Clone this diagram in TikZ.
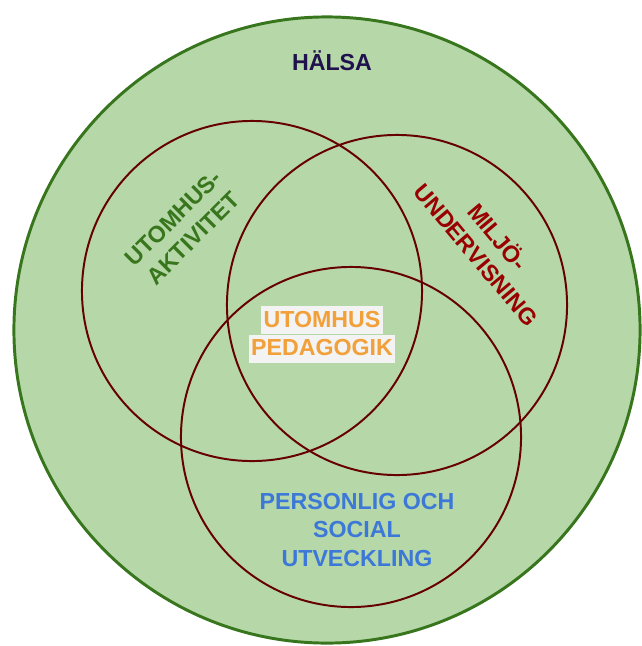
\documentclass[tikz,border=0pt]{standalone}
\usepackage{fontspec}
\setmainfont{Liberation Sans}
\usetikzlibrary{positioning,shapes}
\definecolor{healthgreen}{RGB}{182,215,168}
\definecolor{healthedge}{RGB}{56,118,29}
\definecolor{ringred}{RGB}{102,0,0}
\definecolor{activitygreen}{RGB}{56,118,29}
\definecolor{envred}{RGB}{153,0,0}
\definecolor{socialblue}{RGB}{60,120,216}
\definecolor{pedaorange}{RGB}{241,160,58}
\definecolor{healthnavy}{RGB}{32,18,77}
\definecolor{highlight}{RGB}{243,243,243}

\begin{document}
\begin{tikzpicture}[
    x=0.025cm, y=-0.025cm,
    ring/.style={circle, draw=ringred, line width=1.4pt, minimum size=8.5cm, inner sep=0pt},
    area/.style={font={\fontsize{16.5}{20}\selectfont\bfseries}, align=center, inner sep=1pt},
    marked/.style={area, text=pedaorange, fill=highlight, inner xsep=1.5pt, inner ysep=0pt, text height=15pt, text depth=5pt}
]
\useasboundingbox (0,0) rectangle (641,646);

\node[circle, draw=healthedge, fill=healthgreen, line width=2.1pt, minimum size=15.65cm, inner sep=0pt] (halsa) at (327,330) {};
\node[area, text=healthnavy] (halsatext) at (332,61) {HÄLSA};

\node[ring] (aktivitet) at (252,291) {};
\node[ring] (miljo) at (397,305) {};
\node[ring] (social) at (351,437) {};

\node[area, text=activitygreen, rotate=45] (aktivitettext) at (183,228) {UTOMHUS-\\AKTIVITET};
\node[area, text=envred, rotate=-50] (miljotext) at (488,245) {MILJÖ-\\UNDERVISNING};
\node[area, text=socialblue] (socialtext) at (357,530) {PERSONLIG OCH\\SOCIAL\\UTVECKLING};

\node[marked] (utomhus) at (322,320) {UTOMHUS};
\node[marked, below=0pt of utomhus] (pedagogik) {PEDAGOGIK};

\end{tikzpicture}
\end{document}
